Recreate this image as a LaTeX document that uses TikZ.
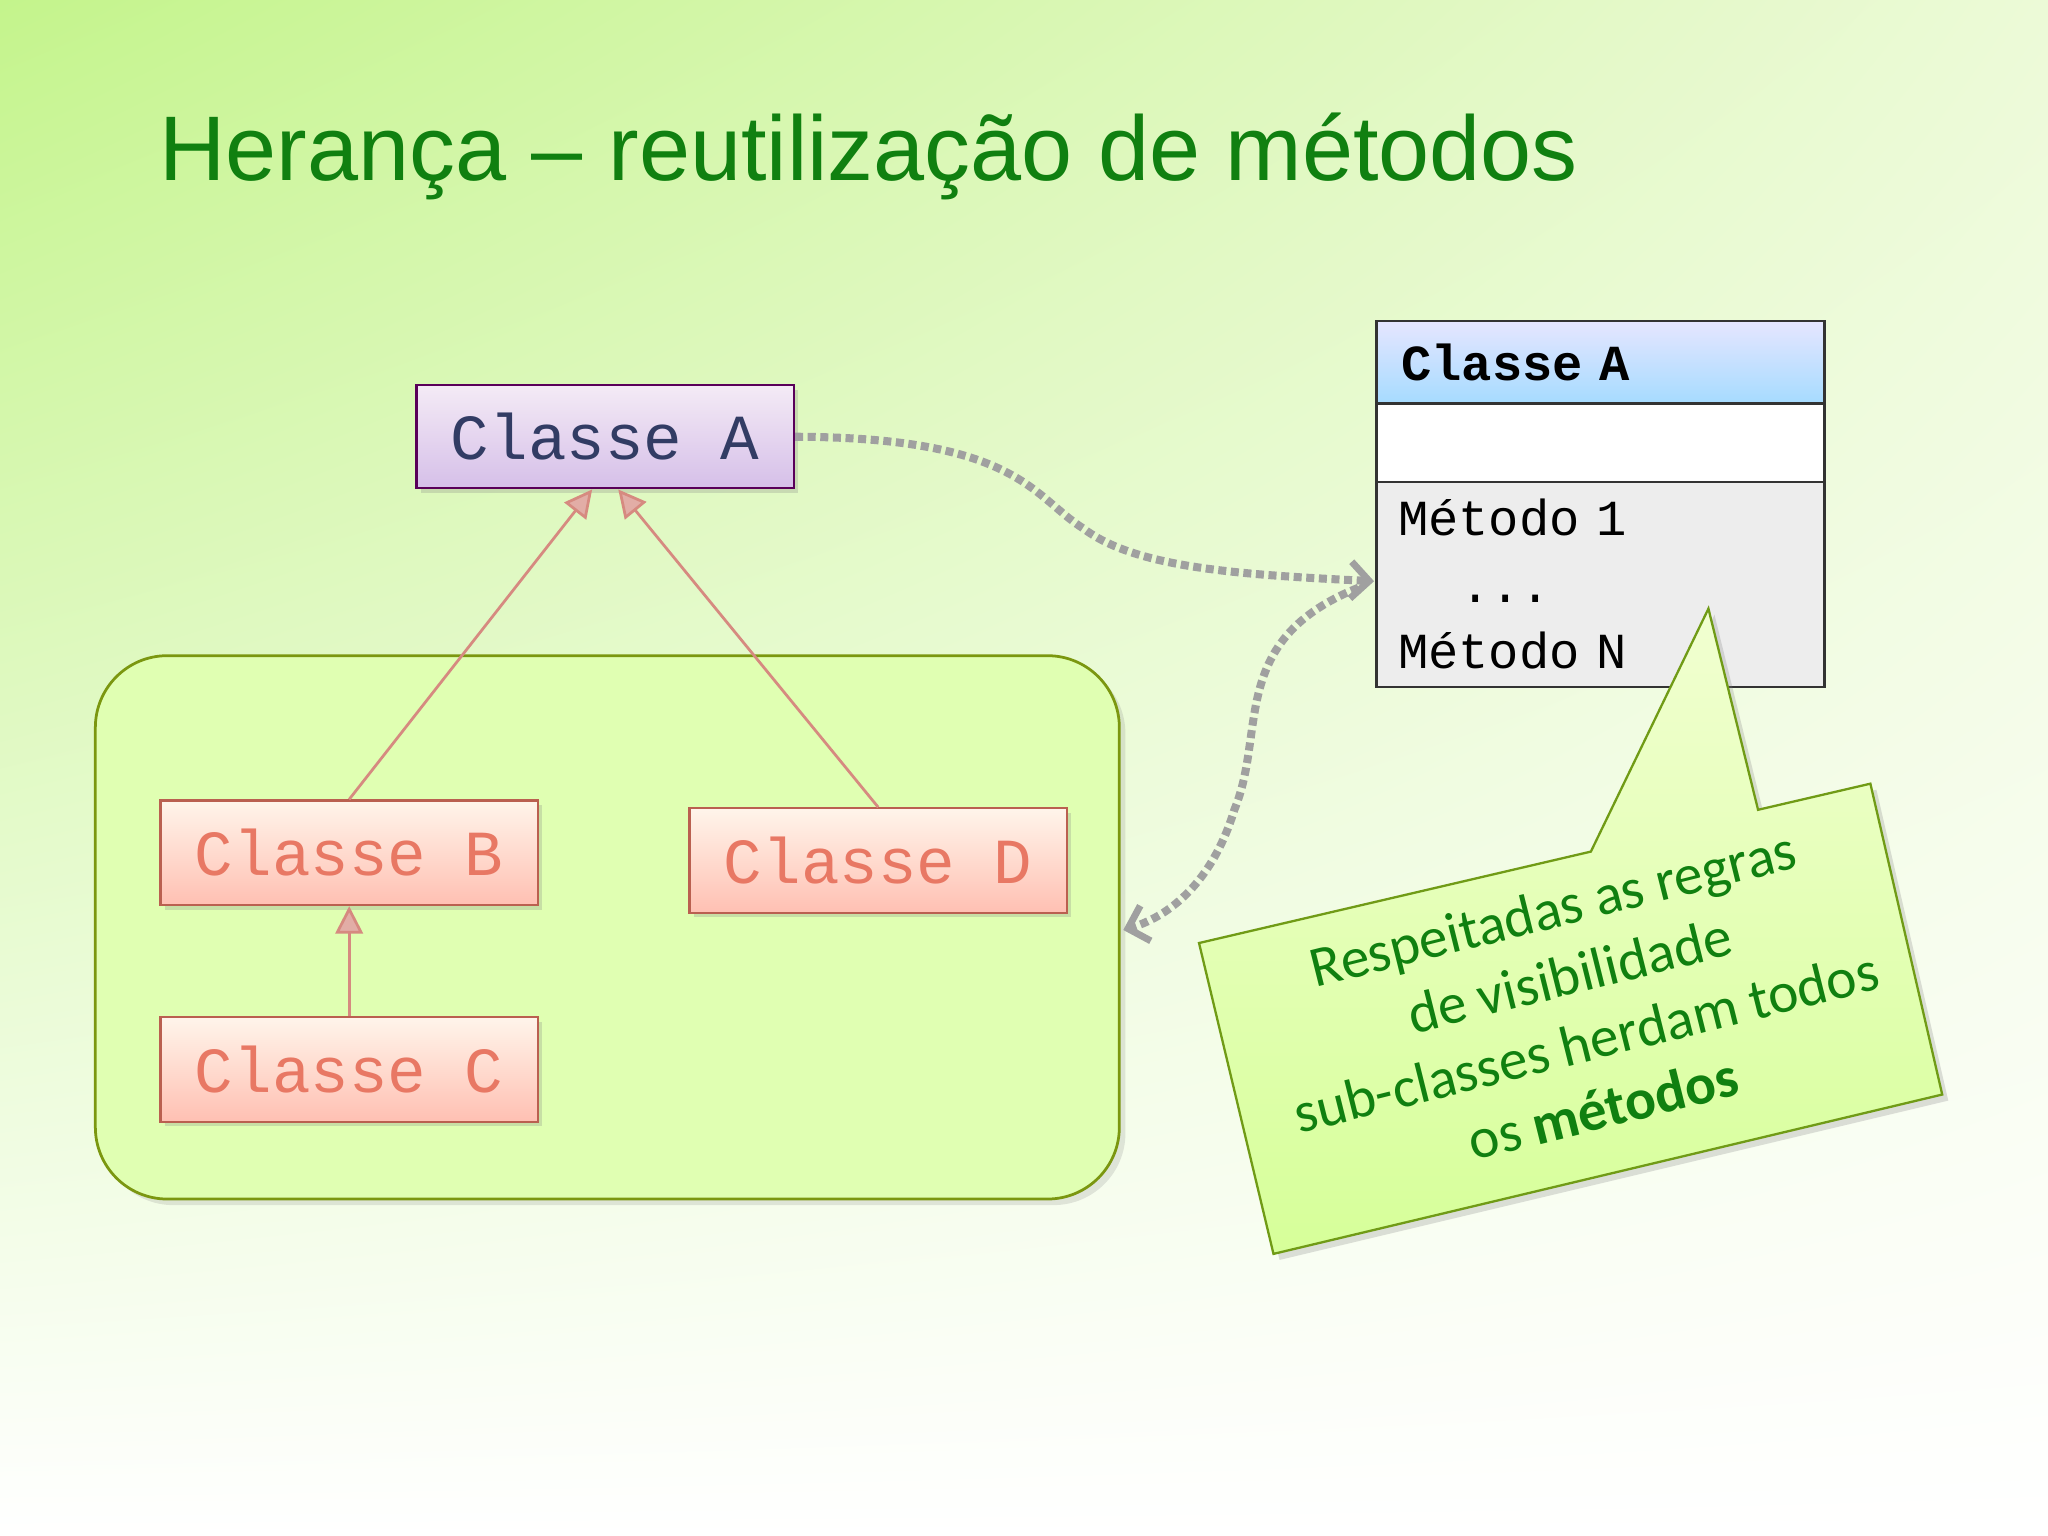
\documentclass[tikz,border=0pt]{standalone}
\usepackage{fontspec}
\setmainfont{Liberation Sans}
\newfontfamily\monof{Liberation Mono}
\newfontfamily\calib{Carlito}
\usetikzlibrary{arrows.meta,shadows,shadings}
\definecolor{bgA}{RGB}{196,244,140}
\definecolor{bgC}{RGB}{236,250,215}
\definecolor{titlec}{RGB}{16,128,16}
\definecolor{pinkl}{RGB}{214,138,128}
\definecolor{dotg}{RGB}{160,160,160}
\definecolor{salmon}{RGB}{232,120,100}
\definecolor{slate}{RGB}{50,60,100}
\tikzset{
 cls/.style={line width=1pt, anchor=north west, font=\monof\fontsize{28}{32}\selectfont, drop shadow={opacity=0.25,shadow xshift=2pt,shadow yshift=-2pt}},
 orange/.style={cls, draw=salmon!80!black, top color=orange!8, bottom color=orange!35!red!30!white, text=salmon},
 violet/.style={cls, draw=violet!70!black, top color=blue!8!violet!8, bottom color=blue!30!violet!25, text=slate},
 inh/.style={pinkl, line width=1.2pt, -{Triangle[length=12pt,width=12pt,fill=pinkl!70]}},
 dots/.style={dotg, line width=3.5pt, dotted, -{Straight Barb[length=8pt,width=16pt,line width=3pt]}},
 uml/.style={draw=black!80, line width=1pt, minimum width=6.86cm, anchor=north west, inner sep=0pt}
}
\begin{document}
\begin{tikzpicture}[x=0.02cm,y=-0.02cm]
\useasboundingbox (0,0) rectangle (1568,1176);
\shade[upper left=bgA, upper right=bgC, lower left=white, lower right=white] (0,0) rectangle (1568,1176);
\node[anchor=west, text=titlec, font=\fontsize{40}{44}\selectfont] (title) at (116,120) {Herança – reutilização de métodos};
% group
\draw[draw=olive!70!green, line width=1.2pt, fill=green!40!yellow!30, rounded corners=1.1cm, drop shadow={opacity=0.2}] (73,502) rectangle (857,918);
\node[violet, minimum width=5.78cm, minimum height=1.58cm] (A) at (318,294) {Classe A};
\node[orange, minimum width=5.78cm, minimum height=1.6cm] (B) at (122,612) {Classe B};
\node[orange, minimum width=5.78cm, minimum height=1.6cm] (D) at (527,618) {Classe D};
\node[orange, minimum width=5.78cm, minimum height=1.6cm] (C) at (122,778) {Classe C};
\draw[inh] (B.north) -- ([xshift=-0.2cm]A.south);
\draw[inh] (D.north) -- ([xshift=0.2cm]A.south);
\draw[inh] (C.north) -- (B.south);
% UML
\node[uml, minimum height=1.26cm, top color=blue!10, bottom color=blue!40!cyan!35, font=\monof\bfseries\fontsize{22}{24}\selectfont, text width=6.5cm, align=left] (h) at (1053,245) {\hspace*{0.2cm}Classe~A};
\node[uml, minimum height=1.2cm, fill=white] (m) at (1053,308) {};
\node[uml, minimum height=3.14cm, fill=black!7, font=\monof\fontsize{22}{27}\selectfont, text width=6.5cm, align=left] (ops) at (1053,368) {\hspace*{0.15cm}Método~1\\[2pt]\hspace*{1.1cm}...\\[2pt]\hspace*{0.15cm}Método~N};
\coordinate (p) at (1052,445);
\draw[dots] (A.east) .. controls (780,335) and (790,380) .. (830,405) .. controls (870,435) and (950,440) .. (p);
\draw[dots] (1040,450) .. controls (940,490) and (970,560) .. (945,620) .. controls (930,670) and (900,700) .. (860,712);
% callout
\draw[draw=olive!60!green, line width=1pt, top color=green!30!yellow!18, bottom color=green!40!yellow!40, drop shadow={opacity=0.25}] (918,722) -- (1218,652) -- (1308,466) -- (1346,620) -- (1432,600) -- (1487,838) -- (975,960) -- cycle;
\node[rotate=14, text=titlec, font=\calib\fontsize{25}{30}\selectfont, align=center] (t) at (1208,772) {Respeitadas as regras\\de visibilidade\\sub-classes herdam todos\\os \textbf{métodos}};
\end{tikzpicture}
\end{document}
